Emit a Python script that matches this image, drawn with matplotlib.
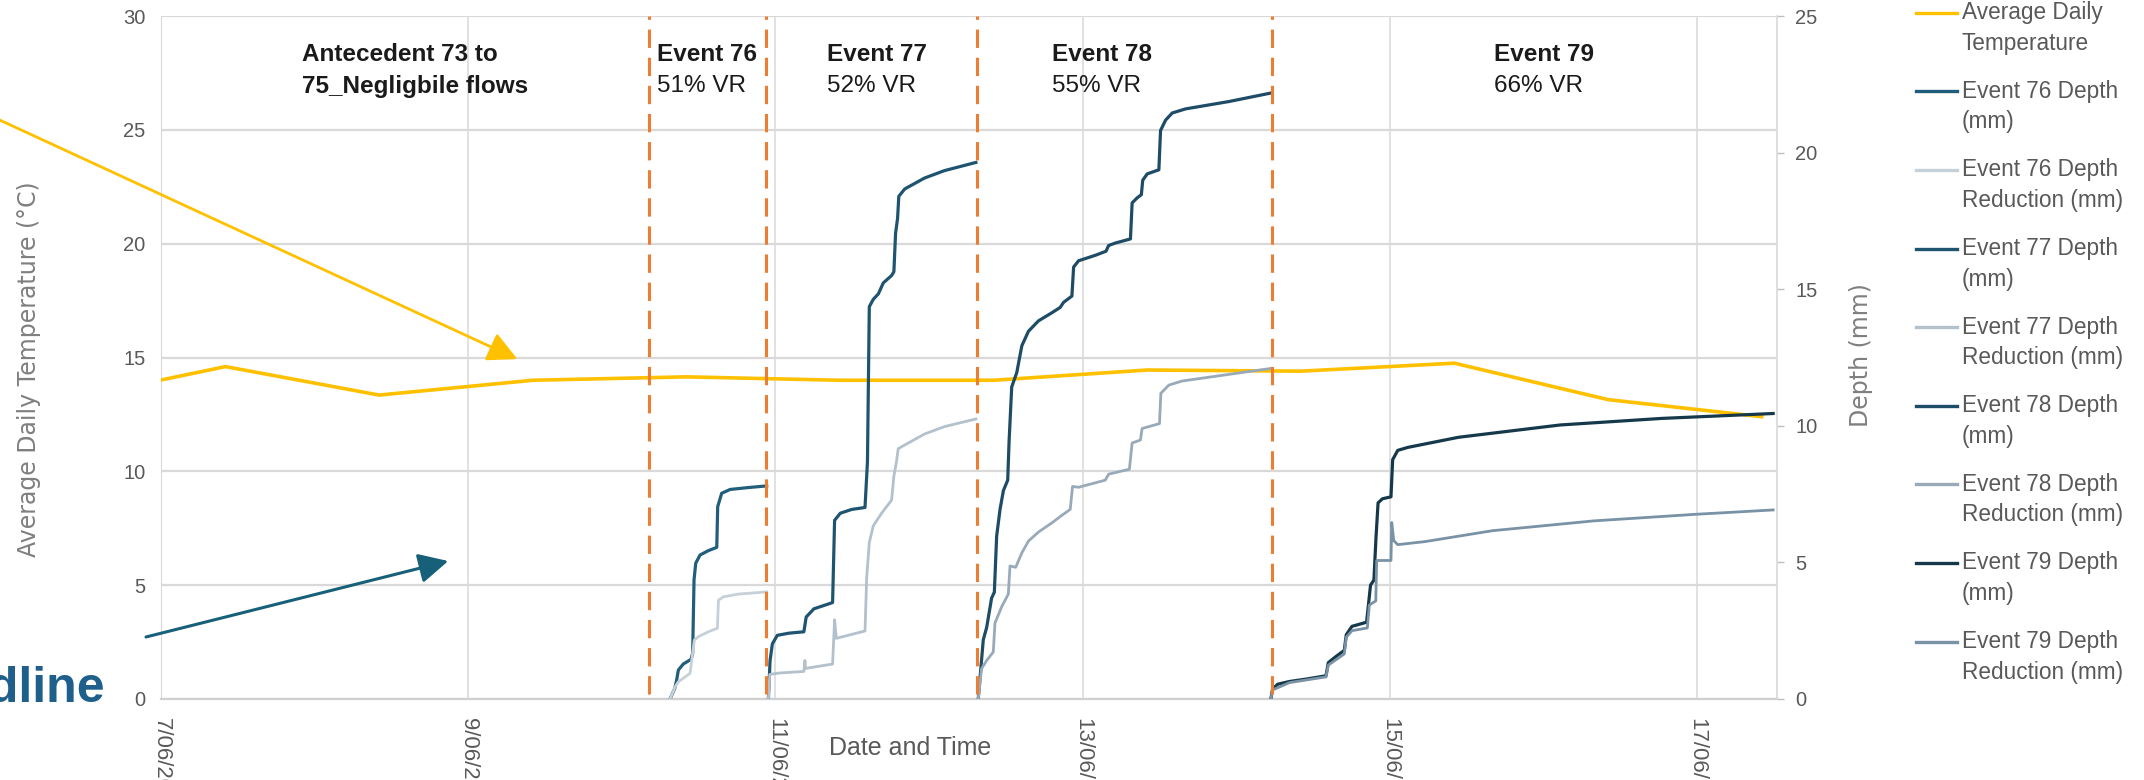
import matplotlib
matplotlib.use('Agg')
import matplotlib.pyplot as plt
import matplotlib.dates as mdates
from matplotlib.lines import Line2D
import numpy as np

plt.rcParams.update({
    'font.family': ['Liberation Sans', 'DejaVu Sans'],
    'font.size': 14,
})

W, H = 2144, 780

# time is kept as days after 7/06/2024 00:00
start = mdates.datestr2num('2024-06-07')

# average daily temperature (degC), one value per day at ~10:00
temp_days = [-0.58, 0.42, 1.42, 2.42, 3.42, 4.42, 5.42, 6.42, 7.42, 8.42, 9.42, 10.42]
temp_vals = [13.2, 14.6, 13.35, 14.0, 14.15, 14.0, 14.0, 14.45, 14.4, 14.75, 13.15, 12.4]

# cumulative depth and depth reduction per event (mm)
ev76_depth_t = [3.314, 3.345, 3.357, 3.368, 3.40, 3.45, 3.461, 3.47, 3.481, 3.509, 3.563,
                3.618, 3.624, 3.65, 3.705, 3.824, 3.943]
ev76_depth = [0.0, 0.40, 0.70, 1.06, 1.28, 1.45, 1.67, 4.36, 4.97, 5.27, 5.43,
              5.55, 7.04, 7.53, 7.67, 7.74, 7.80]
ev76_red_t = [3.314, 3.347, 3.368, 3.40, 3.444, 3.455, 3.472, 3.498, 3.563, 3.622, 3.629,
              3.661, 3.759, 3.943]
ev76_red = [0.0, 0.45, 0.63, 0.76, 0.94, 1.43, 2.16, 2.28, 2.46, 2.59, 3.62,
            3.74, 3.84, 3.92]

ev77_depth_t = [3.954, 3.965, 3.98, 4.012, 4.088, 4.185, 4.20, 4.25, 4.372, 4.385, 4.422,
                4.497, 4.583, 4.599, 4.611, 4.637, 4.67, 4.702, 4.756, 4.771, 4.782,
                4.795, 4.803, 4.842, 4.971, 5.10, 5.305]
ev77_depth = [0.0, 1.41, 2.02, 2.33, 2.41, 2.46, 3.0, 3.30, 3.53, 6.54, 6.80,
              6.94, 7.01, 8.69, 14.36, 14.63, 14.83, 15.23, 15.50, 15.64, 17.05,
              17.59, 18.40, 18.67, 19.07, 19.34, 19.64]
ev77_red_t = [3.954, 3.963, 4.023, 4.185, 4.192, 4.196, 4.372, 4.385, 4.396, 4.583, 4.594,
              4.611, 4.637, 4.691, 4.756, 4.771, 4.788, 4.799, 4.842, 4.971, 5.10, 5.305]
ev77_red = [0.0, 0.90, 0.95, 1.01, 1.41, 1.12, 1.28, 2.90, 2.22, 2.49, 4.45,
            5.73, 6.34, 6.80, 7.28, 8.16, 8.69, 9.16, 9.30, 9.70, 9.97, 10.25]

ev78_depth_t = [5.32, 5.337, 5.353, 5.375, 5.407, 5.425, 5.44, 5.462, 5.484, 5.512, 5.521,
                5.538, 5.571, 5.604, 5.647, 5.712, 5.80, 5.853, 5.876, 5.93, 5.941,
                5.973, 6.082, 6.152, 6.169, 6.213, 6.311, 6.322, 6.354, 6.382, 6.391,
                6.42, 6.496, 6.507, 6.54, 6.583, 6.67, 6.953, 7.225]
ev78_depth = [0.0, 1.11, 2.17, 2.62, 3.69, 3.91, 5.96, 6.94, 7.63, 8.01, 9.44,
              11.42, 11.95, 12.93, 13.46, 13.84, 14.14, 14.33, 14.52, 14.75, 15.81,
              16.04, 16.24, 16.39, 16.60, 16.69, 16.84, 18.16, 18.34, 18.46, 18.99,
              19.22, 19.37, 20.81, 21.19, 21.45, 21.60, 21.87, 22.18]
ev78_red_t = [5.32, 5.342, 5.375, 5.418, 5.429, 5.473, 5.516, 5.527, 5.564, 5.604, 5.647,
              5.712, 5.80, 5.864, 5.919, 5.934, 5.973, 6.147, 6.169, 6.304, 6.322,
              6.376, 6.387, 6.43, 6.50, 6.509, 6.561, 6.648, 7.225]
ev78_red = [0.0, 1.11, 1.41, 1.72, 2.78, 3.38, 3.84, 4.87, 4.82, 5.35, 5.78,
            6.11, 6.45, 6.72, 6.94, 7.78, 7.75, 8.01, 8.23, 8.41, 9.37,
            9.48, 9.90, 9.97, 10.08, 11.19, 11.49, 11.64, 12.10]

ev79_depth_t = [7.225, 7.236, 7.269, 7.346, 7.456, 7.584, 7.599, 7.643, 7.703, 7.716, 7.753,
                7.848, 7.859, 7.874, 7.896, 7.909, 7.923, 7.952, 8.007, 8.018, 8.051,
                8.117, 8.447, 9.108, 9.768, 10.495]
ev79_depth = [0.0, 0.36, 0.54, 0.64, 0.73, 0.85, 1.33, 1.53, 1.78, 2.35, 2.66,
              2.81, 3.38, 4.17, 4.35, 5.86, 7.18, 7.33, 7.40, 8.76, 9.10,
              9.21, 9.58, 10.03, 10.27, 10.45]
ev79_red_t = [7.225, 7.236, 7.346, 7.584, 7.599, 7.703, 7.716, 7.753, 7.853, 7.866, 7.908,
              7.914, 8.007, 8.012, 8.025, 8.051, 8.227, 8.667, 9.328, 9.989, 10.495]
ev79_red = [0.0, 0.33, 0.60, 0.81, 1.24, 1.65, 2.26, 2.50, 2.60, 3.44, 3.59,
            5.07, 5.07, 6.46, 5.80, 5.65, 5.76, 6.16, 6.52, 6.76, 6.92]

# event boundaries (days) and labels
event_bounds = [3.18, 3.94, 5.31, 7.23]
label_days = [0.915, 3.23, 4.335, 5.80, 8.68]
label_line1 = ['Antecedent 73 to', 'Event 76', 'Event 77', 'Event 78', 'Event 79']
label_line2 = ['75_Negligbile flows', '51% VR', '52% VR', '55% VR', '66% VR']

tick_days = [0, 2, 4, 6, 8, 10]

series = [
    ('Event 76 Depth\n(mm)', ev76_depth_t, ev76_depth, '#215E7C', 2.3),
    ('Event 76 Depth\nReduction (mm)', ev76_red_t, ev76_red, '#C5D0D9', 2.0),
    ('Event 77 Depth\n(mm)', ev77_depth_t, ev77_depth, '#1F5470', 2.3),
    ('Event 77 Depth\nReduction (mm)', ev77_red_t, ev77_red, '#B3C1CC', 2.0),
    ('Event 78 Depth\n(mm)', ev78_depth_t, ev78_depth, '#1E4B65', 2.3),
    ('Event 78 Depth\nReduction (mm)', ev78_red_t, ev78_red, '#98AABA', 2.0),
    ('Event 79 Depth\n(mm)', ev79_depth_t, ev79_depth, '#15394B', 2.3),
    ('Event 79 Depth\nReduction (mm)', ev79_red_t, ev79_red, '#7A92A6', 2.0),
]
temp_color = '#FFC000'
grid_c = '#D9D9D9'
tick_c = '#595959'

fig = plt.figure(figsize=(W / 100, H / 100), dpi=100)
ax = fig.add_axes([161 / W, 1 - 699 / H, (1777 - 161) / W, (699 - 16) / H])
ax2 = ax.twinx()

ax.set_axisbelow(True)
ax.grid(axis='y', color=grid_c, lw=1.6)
ax.grid(axis='x', color=grid_c, lw=1.1)

ax.plot(start + np.array(temp_days), temp_vals, color=temp_color, lw=2.6, zorder=3)

for lab, t, v, col, lw in series:
    ax2.plot(start + np.array(t), v, color=col, lw=lw, zorder=3)

for b in event_bounds:
    ax2.axvline(start + b, ymin=0.008, ymax=1, color='#ED7D31', lw=2.2,
                dashes=(6, 3.2), zorder=6)

ax.set_xlim(start, start + 10.52)
ax.set_ylim(0, 30)
ax2.set_ylim(0, 25)
ax.set_yticks(np.arange(0, 31, 5))
ax2.set_yticks(np.arange(0, 26, 5))
ax.set_xticks(start + np.array(tick_days))
ax.xaxis.set_major_formatter(mdates.DateFormatter('%-d/%m/%Y'))

ax.tick_params(axis='y', length=0, pad=11, labelsize=14.5, labelcolor=tick_c)
ax.tick_params(axis='x', length=0, pad=14, labelsize=16, labelcolor=tick_c,
               labelrotation=-90)
ax2.tick_params(axis='y', length=5, width=1, color='#BFBFBF', pad=8,
                labelsize=14.5, labelcolor=tick_c)

for s in ['top', 'right']:
    ax.spines[s].set_visible(False)
ax.spines['left'].set_color(grid_c)
ax.spines['bottom'].set_color('#D0D0D0')
ax.spines['bottom'].set_linewidth(1.6)
for s in ['top', 'left', 'bottom']:
    ax2.spines[s].set_visible(False)
ax2.spines['right'].set_color(grid_c)
ax2.spines['right'].set_linewidth(1.2)

ax.set_ylabel('Average Daily Temperature (°C)', family='DejaVu Sans', fontsize=17,
              color='#7F7F7F')
ax.yaxis.set_label_coords(-0.0743, 0.483)
ax2.set_ylabel('Depth (mm)', family='DejaVu Sans', fontsize=17, color='#7F7F7F')
ax2.yaxis.set_label_coords(1.0446, 0.503)
ax.set_xlabel('Date and Time', fontsize=18, color=tick_c)
ax.xaxis.set_label_coords(0.4635, -0.054)

# event text blocks
trans = ax.get_xaxis_transform()
for i, (d, l1, l2) in enumerate(zip(label_days, label_line1, label_line2)):
    ax.text(start + d, 0.943, l1, transform=trans, fontsize=17.5, fontweight='bold',
            color='#1A1A1A', va='center', ha='left')
    ax.text(start + d, 0.8975, l2, transform=trans, fontsize=17.5,
            fontweight='bold' if i == 0 else 'normal',
            color='#1A1A1A', va='center', ha='left')

# legend, drawn by hand so the key sits on the first text line
legend_items = [('Average Daily\nTemperature', temp_color)] + [(s[0], s[3]) for s in series]
for i, (lab, col) in enumerate(legend_items):
    yc = 12.7 + i * 78.6
    fig.add_artist(Line2D([1916 / W, 1957 / W], [1 - yc / H] * 2, color=col, lw=2.4))
    for j, part in enumerate(lab.split('\n')):
        fig.text(1962 / W, 1 - (yc + j * 30.6) / H, part, va='center', ha='left',
                 fontsize=16.3, color=tick_c)

# slide call-out arrows
ax.annotate('', xy=(start + 2.32, 14.93), xycoords='data',
            xytext=(-40 / W, 1 - 101.7 / H), textcoords='figure fraction',
            arrowprops=dict(arrowstyle='-|>,head_length=0.75,head_width=0.38',
                            color=temp_color, lw=2, shrinkA=0, shrinkB=0,
                            mutation_scale=24),
            annotation_clip=False)
ax.annotate('', xy=(start + 1.87, 6.06), xycoords='data',
            xytext=(146 / W, 1 - 637 / H), textcoords='figure fraction',
            arrowprops=dict(arrowstyle='-|>,head_length=0.75,head_width=0.38',
                            color='#17607A', lw=2.2, shrinkA=0, shrinkB=0,
                            mutation_scale=24),
            annotation_clip=False)

fig.text(105 / W, 1 - 702 / H, 'Headline', ha='right', va='baseline', fontsize=36,
         fontweight='bold', color='#1F5F8B')

fig.savefig('out.png', dpi=100)
